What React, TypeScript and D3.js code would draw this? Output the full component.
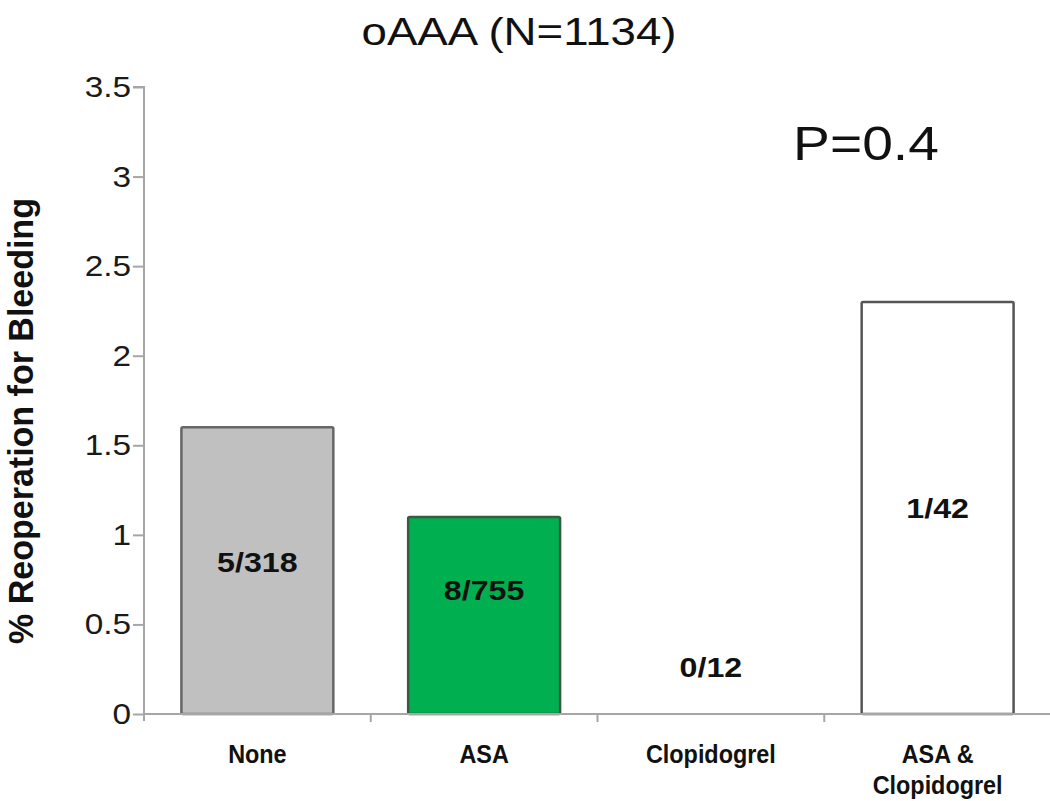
import React, { useEffect, useRef } from "react";
import * as d3 from "d3";

// categories and values (% reoperation for bleeding)
const categories = ["None", "ASA", "Clopidogrel", "ASA & Clopidogrel"];
const categoryLines = [["None"], ["ASA"], ["Clopidogrel"], ["ASA &", "Clopidogrel"]];
const values = [1.6, 1.1, 0, 2.3];
const counts = ["5/318", "8/755", "0/12", "1/42"];
// height (in axis units) at which each count label sits
const countLabelAt = [0.85, 0.69, 0.26, 1.15];
const fills = ["#c0c0c0", "#00b050", "#ffffff", "#ffffff"];
const strokes = ["#666666", "#3a5a44", "#555555", "#555555"];
const yTicks = [0, 0.5, 1, 1.5, 2, 2.5, 3, 3.5];

const title = "oAAA (N=1134)";
const pText = "P=0.4";
const yLabel = "% Reoperation for Bleeding";

const W = 1050;
const H = 801;
const SX = 1.15; // the source image is stretched horizontally

const App: React.FC = () => {
  const svgRef = useRef<SVGSVGElement | null>(null);

  useEffect(() => {
    if (!svgRef.current) return;
    const svg = d3.select(svgRef.current);
    svg.selectAll("*").remove();

    const left = 144;
    const right = 1051;
    const top = 87;
    const bottom = 714;
    const font = "'Liberation Sans', Arial, sans-serif";
    const axisColor = "#a6a6a6";

    const x = d3.scaleBand<string>().domain(categories).range([left, right]).padding(0);
    const y = d3.scaleLinear().domain([0, 3.5]).range([bottom, top]);
    const barW = x.bandwidth() * 0.67;

    // helper: text with a horizontal stretch like the source image
    const txt = (
      g: d3.Selection<SVGGElement, unknown, null, undefined>,
      tx: number,
      ty: number,
      s: string,
      size: number,
      weight: string,
      anchor: string,
      sx = SX,
      rotate = 0
    ) =>
      g
        .append("g")
        .attr("transform", `translate(${tx},${ty}) rotate(${rotate}) ${rotate ? `scale(1,${sx})` : `scale(${sx},1)`}`)
        .append("text")
        .attr("text-anchor", anchor)
        .attr("font-family", font)
        .attr("font-size", size)
        .attr("font-weight", weight)
        .attr("fill", "#111")
        .text(s);

    const root = svg.append("g");

    // bars
    root
      .selectAll("rect.bar")
      .data(categories)
      .enter()
      .filter((_, i) => values[i] > 0)
      .append("rect")
      .attr("class", "bar")
      .attr("x", (d) => x(d)! + (x.bandwidth() - barW) / 2)
      .attr("y", (d) => y(values[categories.indexOf(d)]))
      .attr("width", barW)
      .attr("height", (d) => y(0) - y(values[categories.indexOf(d)]))
      .attr("fill", (d) => fills[categories.indexOf(d)])
      .attr("stroke", (d) => strokes[categories.indexOf(d)])
      .attr("stroke-width", 2.5)
      .attr("rx", 1.5);

    // y axis
    const yAxis = d3.axisLeft(y).tickValues(yTicks).tickSize(11).tickFormat((d) => String(d));
    const yg = root.append("g").attr("transform", `translate(${left},0)`).call(yAxis);
    yg.select(".domain").attr("stroke", axisColor).attr("stroke-width", 2).attr("d", `M-11,${top}H0V${bottom + 7}`);
    yg.selectAll(".tick line").attr("stroke", axisColor).attr("stroke-width", 2);
    yg.selectAll(".tick text").remove();
    yTicks.forEach((t) => {
      txt(root, left - 13, y(t) + 10, String(t), 29, "normal", "end").attr("fill", "#1a1a1a");
    });

    // x axis
    const xg = root.append("g");
    xg.append("line")
      .attr("x1", left)
      .attr("x2", right)
      .attr("y1", bottom)
      .attr("y2", bottom)
      .attr("stroke", axisColor)
      .attr("stroke-width", 2);
    xg.selectAll("line.tick")
      .data(categories.slice(1))
      .enter()
      .append("line")
      .attr("class", "tick")
      .attr("x1", (d) => x(d)!)
      .attr("x2", (d) => x(d)!)
      .attr("y1", bottom)
      .attr("y2", bottom + 8)
      .attr("stroke", axisColor)
      .attr("stroke-width", 2);

    // category labels (narrow in the source)
    categories.forEach((c, i) => {
      const cx = x(c)! + x.bandwidth() / 2;
      categoryLines[i].forEach((line, j) => {
        txt(root, cx, 763 + j * 31, line, 26, "bold", "middle", 0.9);
      });
    });

    // count labels
    categories.forEach((c, i) => {
      const cx = x(c)! + x.bandwidth() / 2;
      txt(root, cx, y(countLabelAt[i]) + 10, counts[i], 28, "bold", "middle");
    });

    // title, p value
    txt(root, 519, 45, title, 39, "normal", "middle", 1.17);
    txt(root, 866, 160, pText, 48, "normal", "middle");

    // y label
    txt(root, 33, 421, yLabel, 34, "bold", "middle", 1.05, -90);
  }, []);

  return (
    <div style={{ position: "absolute", left: 0, top: 0 }}>
      <svg ref={svgRef} width={W} height={H} style={{ display: "block", background: "#fff" }} />
    </div>
  );
};

export default App;
